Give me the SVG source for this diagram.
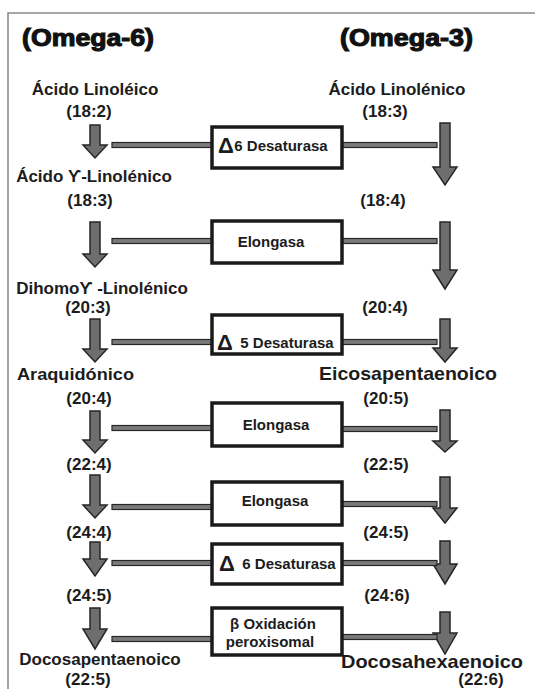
<svg xmlns="http://www.w3.org/2000/svg" width="535" height="689" viewBox="0 0 535 689">
<style>
.lbl{font-family:"Liberation Sans",Arial,sans-serif;font-weight:bold;font-size:17px;fill:#1c1c1c;text-anchor:middle}
.lbs{font-family:"Liberation Sans",Arial,sans-serif;font-weight:bold;font-size:17px;fill:#1c1c1c}
.lbb{font-family:"Liberation Sans",Arial,sans-serif;font-weight:bold;font-size:18.5px;fill:#1c1c1c}
.hd{font-family:"Liberation Sans",Arial,sans-serif;font-weight:bold;font-size:23px;fill:#111;stroke:#111;stroke-width:1.1}
.bt{font-family:"Liberation Sans",Arial,sans-serif;font-weight:bold;font-size:15px;fill:#1c1c1c;text-anchor:middle}
.dl{font-family:"Liberation Sans",Arial,sans-serif;font-weight:bold;font-size:22px;fill:#1c1c1c}
.box{fill:#fff;stroke:#1a1a1a;stroke-width:3.5}
.arr{fill:#6e6e6e;stroke:#262626;stroke-width:1.5}
.con{fill:#7a7a7a;stroke:#262626;stroke-width:1.2}
.frame{fill:none;stroke:#8a8a8a;stroke-width:1.6}
</style>
<rect width="535" height="689" fill="#fff"/>
<path class="frame" d="M8 689V13H535"/>

<g id="connectors">
<!-- left arrows -->
<path class="arr" d="M90 125H100V145H107L95 158L83 145H90Z"/>
<path class="arr" d="M90 222H100V254H107L95 267L83 254H90Z"/>
<path class="arr" d="M90 319H100V349H107L95 362L83 349H90Z"/>
<path class="arr" d="M90 411H100V440H107L95 453L83 440H90Z"/>
<path class="arr" d="M90 475H100V505H107L95 518L83 505H90Z"/>
<path class="arr" d="M90 542H100V559H107L95 576L83 559H90Z"/>
<path class="arr" d="M90 608H100V629H107L95 649L83 629H90Z"/>
<!-- right arrows -->
<path class="arr" d="M440 123H450V167H457L445 185L433 167H440Z"/>
<path class="arr" d="M440 222H450V270H457L445 289L433 270H440Z"/>
<path class="arr" d="M440 319H450V348H457L445 362L433 348H440Z"/>
<path class="arr" d="M440 410H450V441H457L445 452L433 441H440Z"/>
<path class="arr" d="M440 477H450V508H457L445 523L433 508H440Z"/>
<path class="arr" d="M440 541H450V564H457L445 584L433 564H440Z"/>
<path class="arr" d="M440 612H450V633H457L445 654L433 633H440Z"/>
<!-- enzyme links -->
<rect class="con" x="112" y="142.5" width="100" height="5"/><rect class="con" x="342" y="142.5" width="95" height="5"/>
<rect class="con" x="112" y="238.5" width="100" height="5"/><rect class="con" x="342" y="238.5" width="95" height="5"/>
<rect class="con" x="112" y="339.5" width="100" height="5"/><rect class="con" x="342" y="339.5" width="95" height="5"/>
<rect class="con" x="112" y="425.5" width="100" height="5"/><rect class="con" x="342" y="426.5" width="95" height="5"/>
<rect class="con" x="112" y="504.5" width="100" height="5"/><rect class="con" x="342" y="501.5" width="95" height="5"/>
<rect class="con" x="112" y="560.5" width="100" height="5"/><rect class="con" x="342" y="560.5" width="95" height="5"/>
<rect class="con" x="112" y="636.5" width="100" height="5"/><rect class="con" x="342" y="634.5" width="95" height="5"/>
</g>

<g id="headers">
<text class="hd" x="22" y="46" textLength="132" lengthAdjust="spacingAndGlyphs">(Omega-6)</text>
<text class="hd" x="340" y="46" textLength="133" lengthAdjust="spacingAndGlyphs">(Omega-3)</text>
</g>

<g id="omega6">
<g id="n6-1"><text class="lbl" x="95" y="95">Ácido Linoléico</text><text class="lbl" x="89" y="117">(18:2)</text></g>
<g id="n6-2"><text class="lbl" x="94" y="182">Ácido ϒ-Linolénico</text><text class="lbl" x="90" y="206">(18:3)</text></g>
<g id="n6-3"><text class="lbl" x="102" y="294">Dihomoϒ -Linolénico</text><text class="lbl" x="88" y="313">(20:3)</text></g>
<g id="n6-4"><text class="lbs" x="17" y="380" textLength="117" lengthAdjust="spacingAndGlyphs">Araquidónico</text><text class="lbl" x="89" y="404">(20:4)</text></g>
<g id="n6-5"><text class="lbl" x="89" y="470">(22:4)</text></g>
<g id="n6-6"><text class="lbl" x="89" y="538">(24:4)</text></g>
<g id="n6-7"><text class="lbl" x="89" y="601">(24:5)</text></g>
<g id="n6-8"><text class="lbl" x="100" y="665">Docosapentaenoico</text><text class="lbl" x="88" y="685">(22:5)</text></g>
</g>

<g id="omega3">
<g id="n3-1"><text class="lbl" x="397" y="95">Ácido Linolénico</text><text class="lbl" x="385" y="117">(18:3)</text></g>
<g id="n3-2"><text class="lbl" x="383" y="206">(18:4)</text></g>
<g id="n3-3"><text class="lbl" x="385" y="313">(20:4)</text></g>
<g id="n3-4"><text class="lbb" x="319" y="380" textLength="178" lengthAdjust="spacingAndGlyphs">Eicosapentaenoico</text><text class="lbl" x="386" y="404">(20:5)</text></g>
<g id="n3-5"><text class="lbl" x="386" y="470">(22:5)</text></g>
<g id="n3-6"><text class="lbl" x="386" y="538">(24:5)</text></g>
<g id="n3-7"><text class="lbl" x="387" y="601">(24:6)</text></g>
<g id="n3-8"><text class="lbb" x="341" y="668" textLength="182" lengthAdjust="spacingAndGlyphs">Docosahexaenoico</text><text class="lbl" x="481" y="685">(22:6)</text></g>
</g>

<g id="enzymes">
<g id="e1"><rect class="box" x="212" y="127" width="130" height="41"/><text class="dl" x="218" y="153">Δ</text><text class="bt" x="281" y="151">6 Desaturasa</text></g>
<g id="e2"><rect class="box" x="212" y="221" width="130" height="42"/><text class="bt" x="271" y="247">Elongasa</text></g>
<g id="e3"><rect class="box" x="212" y="315" width="130" height="39"/><text class="dl" x="217" y="350">Δ</text><text class="bt" x="287" y="348">5 Desaturasa</text></g>
<g id="e4"><rect class="box" x="212" y="403" width="130" height="43"/><text class="bt" x="276" y="430">Elongasa</text></g>
<g id="e5"><rect class="box" x="212" y="482" width="130" height="43"/><text class="bt" x="275" y="506">Elongasa</text></g>
<g id="e6"><rect class="box" x="212" y="544" width="130" height="40"/><text class="dl" x="219" y="571">Δ</text><text class="bt" x="289" y="569">6 Desaturasa</text></g>
<g id="e7"><rect class="box" x="212" y="608" width="130" height="47"/><text class="bt" x="273" y="629">β Oxidación</text><text class="bt" x="270" y="647">peroxisomal</text></g>
</g>
</svg>
